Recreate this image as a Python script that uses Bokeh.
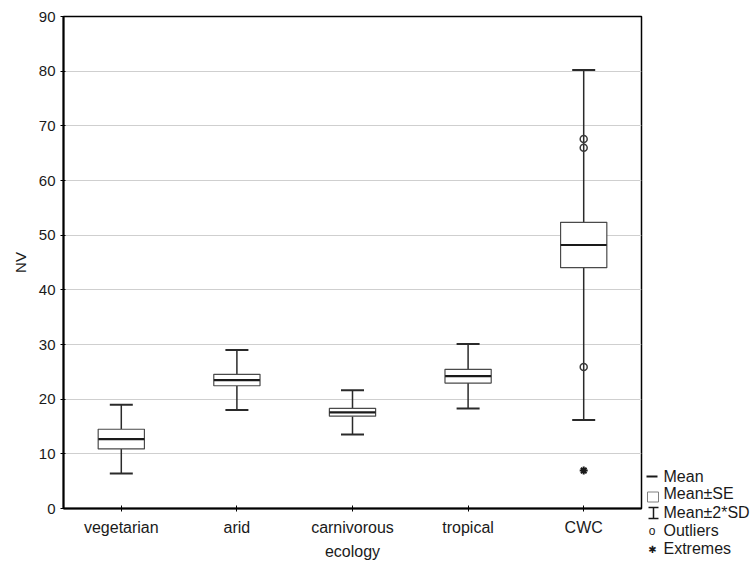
from bokeh.plotting import figure
from bokeh.models import Range1d, FixedTicker, LinearScale
from bokeh.core.properties import value
from bokeh.embed import file_html
from bokeh.resources import INLINE

# ---- data ----
categories = ["vegetarian", "arid", "carnivorous", "tropical", "CWC"]
mean = [12.7, 23.5, 17.6, 24.2, 48.2]
se = [1.8, 1.05, 0.72, 1.25, 4.15]          # half-height of Mean±SE box
sd2 = [6.3, 5.5, 4.05, 5.9, 32.0]           # 2*SD whisker half-range
outlier_cat = ["CWC", "CWC", "CWC"]
outlier_val = [67.6, 66.0, 25.9]
extreme_cat = ["CWC"]
extreme_val = [6.95]
y_ticks = [0, 10, 20, 30, 40, 50, 60, 70, 80, 90]
legend_labels = ["Mean", "Mean\u00b1SE", "Mean\u00b12*SD", "Outliers", "Extremes"]

se_lo = [m - s for m, s in zip(mean, se)]
se_hi = [m + s for m, s in zip(mean, se)]
sd_lo = [m - s for m, s in zip(mean, sd2)]
sd_hi = [m + s for m, s in zip(mean, sd2)]

FONT = "Liberation Sans"
INK = "#1a1a1a"

W, H = 753, 562
FL, FR, FT, FB = 63, 641, 16, 508   # frame edges in page pixels

p = figure(x_range=categories, y_range=Range1d(0, 90), width=W, height=H,
           output_backend="svg", toolbar_location=None,
           min_border_left=FL, min_border_right=W - FR, min_border_top=FT,
           min_border_bottom=H - FB)
p.background_fill_color = "white"
p.border_fill_color = "white"
p.outline_line_color = "black"
p.outline_line_width = 1.5

p.xgrid.grid_line_color = None
p.ygrid.ticker = FixedTicker(ticks=y_ticks)
p.ygrid.grid_line_color = "#cfcfcf"
p.ygrid.grid_line_width = 1

# y axis
p.yaxis.ticker = FixedTicker(ticks=y_ticks)
p.yaxis.minor_tick_line_color = None
p.yaxis.major_tick_out = 3
p.yaxis.major_tick_in = 2
p.yaxis.major_label_standoff = 5
p.yaxis.major_label_text_font = FONT
p.yaxis.major_label_text_font_size = "15px"
p.yaxis.major_label_text_color = INK
p.yaxis.axis_label = "NV"
p.yaxis.axis_label_text_font = FONT
p.yaxis.axis_label_text_font_size = "15px"
p.yaxis.axis_label_text_font_style = "normal"
p.yaxis.axis_label_text_color = INK
p.yaxis.axis_label_standoff = 7
p.yaxis.axis_line_width = 2
p.yaxis.axis_line_color = "black"

# x axis
p.xaxis.major_tick_out = 3
p.xaxis.major_tick_in = 3
p.xaxis.major_label_standoff = 7
p.xaxis.major_label_text_font = FONT
p.xaxis.major_label_text_font_size = "16px"
p.xaxis.major_label_text_color = INK
p.xaxis.axis_label = "ecology"
p.xaxis.axis_label_text_font = FONT
p.xaxis.axis_label_text_font_size = "16px"
p.xaxis.axis_label_text_font_style = "normal"
p.xaxis.axis_label_text_color = INK
p.xaxis.axis_label_standoff = 4
p.xaxis.axis_line_width = 2
p.xaxis.axis_line_color = "black"

# whiskers (Mean ± 2*SD)
p.segment(x0=categories, y0=se_hi, x1=categories, y1=sd_hi, line_color="#2a2a2a", line_width=1.5)
p.segment(x0=categories, y0=se_lo, x1=categories, y1=sd_lo, line_color="#2a2a2a", line_width=1.5)
p.scatter(x=categories, y=sd_hi, marker="dash", size=23, line_color="#2a2a2a", line_width=2)
p.scatter(x=categories, y=sd_lo, marker="dash", size=23, line_color="#2a2a2a", line_width=2)

# boxes (Mean ± SE)
p.vbar(x=categories, bottom=se_lo, top=se_hi, width=0.4, fill_color="white",
       line_color="#4a4a4a", line_width=1.2)
# mean line
p.scatter(x=categories, y=mean, marker="dash", size=46, line_color="#1a1a1a", line_width=2.2)

# outliers and extremes
p.scatter(x=outlier_cat, y=outlier_val, marker="circle", size=7, fill_color=None,
          line_color="#3a3a3a", line_width=1.5)
p.scatter(x=extreme_cat, y=extreme_val, marker="asterisk", size=8, line_color="#1a1a1a",
          line_width=2)

# ---- legend, drawn outside the frame ----
# x: categorical coordinate with an offset; y: a page-pixel extra range
CW = (FR - FL) / len(categories)


def xpx(px):
    return (categories[0], (px - (FL + 0.5 * CW)) / CW)


p.extra_y_ranges = {"py": Range1d(FB, FT)}
p.extra_y_scales = {"py": LinearScale()}
kw = dict(y_range_name="py", level="overlay")

ly = [476, 493, 512, 530, 548]
p.segment(x0=[xpx(646)], y0=[ly[0]], x1=[xpx(657)], y1=[ly[0]], line_color=INK,
          line_width=2, **kw)
p.rect(x=[xpx(652.5)], y=[496.5], width=11, height=10, width_units="screen",
       height_units="screen", fill_color="white", line_color="#808080", line_width=1, **kw)
p.segment(x0=[xpx(653)], y0=[507], x1=[xpx(653)], y1=[518], line_color=INK,
          line_width=1.5, **kw)
p.segment(x0=[xpx(648), xpx(648)], y0=[507, 518], x1=[xpx(658), xpx(658)], y1=[507, 518],
          line_color=INK, line_width=1.5, **kw)
p.text(x=[xpx(651.5)], y=[ly[3]], text=["o"], text_align="center", text_baseline="middle",
       text_font=value(FONT), text_font_size="12px", text_color=INK, **kw)
p.text(x=[xpx(652)], y=[ly[4] + 1], text=["\u2731"], text_align="center",
       text_baseline="middle", text_font=value("DejaVu Sans"), text_font_size="10px",
       text_color=INK, **kw)
p.text(x=[xpx(663)] * 5, y=ly, text=legend_labels, text_baseline="middle",
       text_align="left", text_font=value(FONT), text_font_size="16px", text_color=INK, **kw)

open("out.html", "w").write(file_html(p, INLINE))
